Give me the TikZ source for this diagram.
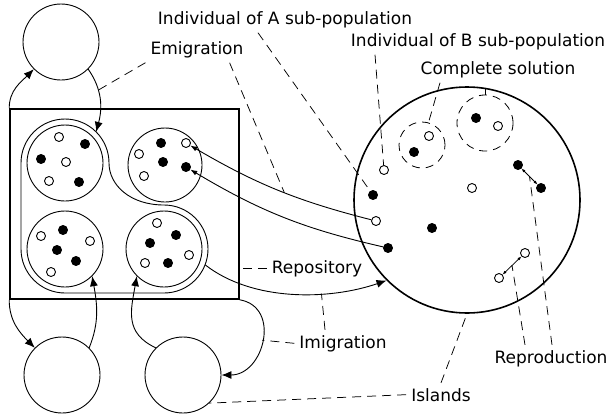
\documentclass[tikz,border=0pt]{standalone}
\usepackage{fontspec}
\setmainfont{DejaVu Sans}
\usetikzlibrary{arrows.meta,calc}
\begin{document}
\begin{tikzpicture}[x=1pt,y=1pt,
  island/.style={circle,draw,line width=0.9pt,minimum size=76pt,inner sep=0pt},
  subpop/.style={circle,draw,line width=0.9pt,minimum size=76pt,inner sep=0pt},
  wdot/.style={circle,draw,line width=0.9pt,fill=white,minimum size=9pt,inner sep=0pt},
  bdot/.style={wdot,fill=black},
  sol/.style={circle,draw,line width=0.8pt,dash pattern=on 8pt off 6pt,inner sep=0pt},
  tag/.style={font=\fontsize{17}{20}\selectfont,inner sep=5pt,anchor=base},
  leader/.style={draw,line width=0.75pt,dash pattern=on 9pt off 6pt},
  migr/.style={line width=0.9pt,-{Latex[length=10pt,width=8pt]}},
  transfer/.style={line width=0.9pt,-{Latex[length=7pt,width=5pt]}},
  pair/.style={line width=0.75pt,{Latex[length=4pt,width=3pt]}-{Latex[length=4pt,width=3pt]}},
]
\path[use as bounding box] (0,0) rectangle (609,-415);

% islands around the repository
\node[island] (tl) at (61,-42) {};
\node[island] (bl) at (62,-375) {};
\node[island] (bm) at (183,-375) {};

% repository with its four sub-populations
\node[draw,line width=1.6pt,minimum width=229pt,minimum height=190pt,inner sep=0pt] (store) at (124.5,-204) {};
\node[subpop] (A1) at (65,-163) {};
\node[subpop,minimum size=74pt] (B1) at (165,-165) {};
\node[subpop] (A2) at (65,-249) {};
\node[subpop] (B2) at (164,-249) {};

% outline enclosing three of the sub-populations
\draw[line width=0.9pt]
  ($(A1)+(-44,0)$) -- ($(A2)+(-44,0)$)
  arc[start angle=180,end angle=270,radius=44]
  -- ($(B2)+(0,-44)$)
  arc[start angle=270,end angle=450,radius=44]
  .. controls (130,-205) and (109,-185) .. ($(A1)+(44,0)$)
  arc[start angle=0,end angle=180,radius=44] -- cycle;
\coordinate (A1in) at ($(A1)+(45:44)$);
\coordinate (B2out) at ($(B2)+(-21:44)$);

% the large island
\node[circle,draw,line width=1.6pt,minimum size=226pt,inner sep=0pt] (big) at (467,-200) {};
\node[sol,minimum size=46pt] (dc1) at (422,-145) {};
\node[sol,minimum size=56pt] (dc2) at (485,-123) {};

% individuals
\foreach \x/\y [count=\i] in {59/-137,66/-162,49/-181,186/-143,139/-154,144/-176,41/-236,90/-241,51/-272,157/-223,189/-255,145/-263,429/-136,498/-126,472/-188}
  \node[wdot] (w\i) at (\x,\y) {};
\foreach \x/\y [count=\i] in {85/-144,41/-159,79/-182,161/-143,163/-162,186/-167,63/-230,57/-250,76/-261,176/-235,150/-243,168/-263,414/-152,476/-118,432/-228}
  \node[bdot] (k\i) at (\x,\y) {};
\node[wdot] (bw) at (384,-170) {};
\node[bdot] (ba) at (373,-195) {};
\node[wdot] (mw) at (376,-221) {};
\node[bdot] (mb) at (388,-248) {};
\node[bdot] (r1) at (518,-165) {};
\node[bdot] (r2) at (541,-188) {};
\node[wdot] (r3) at (525,-253) {};
\node[wdot] (r4) at (499,-278) {};

% migration arrows
\draw[migr] (store.north west) to[out=90,in=225] (tl.225);
\draw[migr] (tl.-45) to[out=-55,in=75] coordinate[pos=0.35] (emi) (A1in);
\draw[migr] (store.south west) to[out=-90,in=135] (bl.135);
\draw[migr] (bl.45) to[out=68,in=-80] (A2.-45);
\draw[migr] (bm.135) to[out=155,in=-100,looseness=1.2] (B2.225);
\draw[migr] (store.south east) to[out=-10,in=0,looseness=1.4] coordinate[pos=0.5] (imi1) (bm.east);
\draw[migr] (B2out) to[out=-38,in=199,looseness=0.85] coordinate[pos=0.65] (imi2) (big.225);

% individuals sent to the repository
\draw[transfer] (mw) to[bend left=8] coordinate[pos=0.46] (emi2) (w4);
\draw[transfer] (mb) to[bend left=9] (k6);

% reproduction pairs
\draw[pair] (r1) -- coordinate[midway] (rp1) (r2);
\draw[pair] (r3) -- coordinate[midway] (rp2) (r4);

% labels
\node[tag] (indA) at (285,-24) {Individual of A sub-population};
\node[tag] (indB) at (478,-46) {Individual of B sub-population};
\node[tag] (emig) at (197,-54) {Emigration};
\node[tag] (compl) at (498,-74) {Complete solution};
\node[tag] (repo) at (317,-273) {Repository};
\node[tag] (imig) at (343,-348) {Imigration};
\node[tag] (repr) at (551,-363) {Reproduction};
\node[tag] (isl) at (441,-401) {Islands};

% leader lines
\draw[leader] (emig.south west) -- (emi);
\draw[leader] ([xshift=-19pt]emig.south east) -- (emi2);
\draw[leader] ([xshift=-27pt]indA.south) -- (ba);
\draw[leader] ([xshift=-103pt]indB.south) -- (bw);
\draw[leader] ([xshift=-58pt]compl.south) -- (dc1);
\draw[leader,dash pattern=on 0pt off 5pt on 10pt] ([xshift=-13pt]compl.south) -- (dc2.north);
\draw[leader] (repo.west) -- (repo.west -| store.east);
\draw[leader] (imig.west) -- (imi1);
\draw[leader] ([xshift=-18pt]imig.north) -- (imi2);
\draw[leader] ([xshift=-26pt]repr.north) -- (rp2);
\draw[leader] ([xshift=1pt]repr.north) -- (rp1);
\draw[leader] (isl.west) -- (bm.-47);
\draw[leader] (isl.north) -- (big.south);
\end{tikzpicture}
\end{document}
